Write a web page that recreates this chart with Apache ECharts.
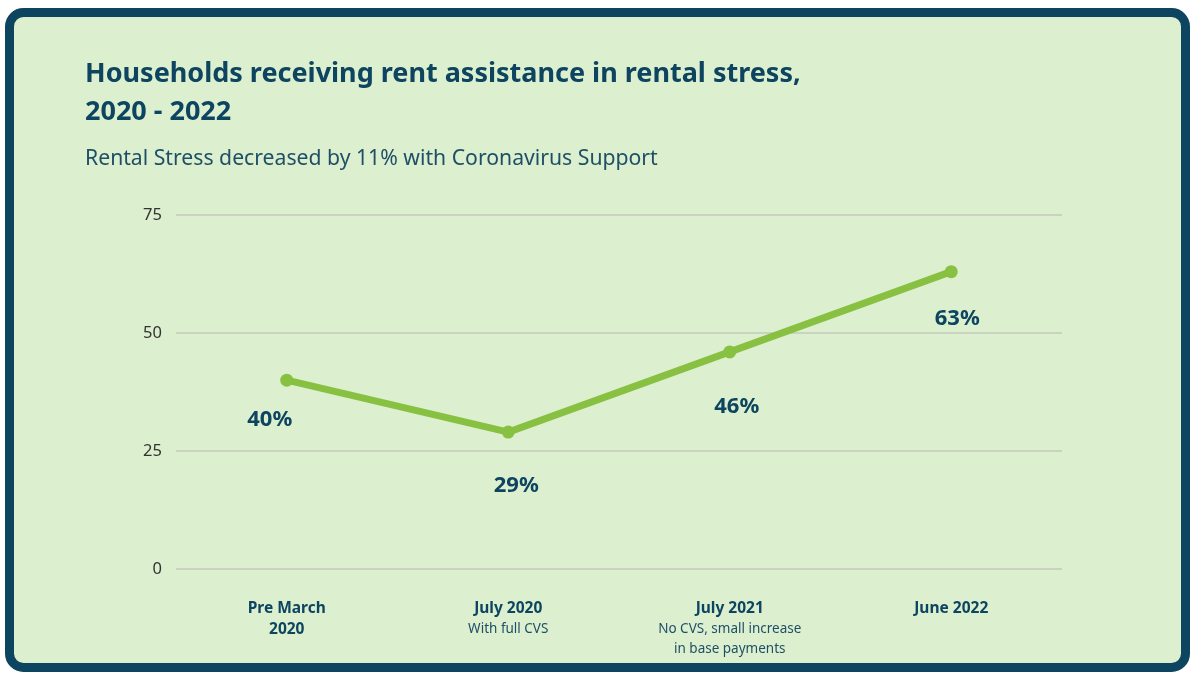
<!DOCTYPE html>
<html><head><meta charset="utf-8">
<script src="https://cdn.jsdelivr.net/npm/echarts@6/dist/echarts.min.js"></script>
<style>html,body{margin:0;padding:0;background:#fff}#c{width:1191px;height:673px}</style>
</head><body><div id="c"></div>
<script>
const categories = ["Pre March\n2020", "July 2020", "July 2021", "June 2022"];
const categoryNotes = ["", "With full CVS", "No CVS, small increase\nin base payments", ""];
const stressValues = [40, 29, 46, 63];
const yTicks = [0, 25, 50, 75];
const titleText = "Households receiving rent assistance in rental stress,\n2020 - 2022";
const subtitleText = "Rental Stress decreased by 11% with Coronavirus Support";

const font = "Noto Sans";
const dark = "#0d4460";
const labelOffsets = [[-17, 40], [8, 54], [7, 55], [6, 47]];

const chart = echarts.init(document.getElementById('c'));
chart.setOption({
  backgroundColor: '#ffffff',
  textStyle: { fontFamily: font },
  graphic: [{
    type: 'rect', z: -10,
    shape: { x: 9.5, y: 12.5, width: 1176, height: 655, r: 14 },
    style: { fill: '#dcefcf', stroke: dark, lineWidth: 9 }
  }],
  title: [{
    text: titleText, left: 80, top: 50,
    textStyle: { fontFamily: font, fontSize: 27, fontWeight: 'bold', color: dark, lineHeight: 38 }
  }, {
    text: subtitleText, left: 80, top: 143,
    textStyle: { fontFamily: font, fontSize: 21.2, fontWeight: 'normal', color: '#1f4f66' }
  }],
  grid: { left: 176, right: 129, top: 215, bottom: 104 },
  xAxis: {
    type: 'category', data: categories, boundaryGap: true,
    axisLine: { show: false }, axisTick: { show: false },
    axisLabel: {
      margin: 29, color: dark,
      formatter: function (v, i) {
        const lines = v.split('\n').map(s => '{b|' + s + '}');
        const notes = categoryNotes[i] ? categoryNotes[i].split('\n').map(s => '{s|' + s + '}') : [];
        return lines.concat(notes).join('\n');
      },
      rich: {
        b: { fontFamily: font, fontSize: 15.5, fontWeight: 'bold', color: dark, lineHeight: 21 },
        s: { fontFamily: font, fontSize: 13.5, color: '#1f4f66', lineHeight: 20 }
      }
    }
  },
  yAxis: {
    type: 'value', min: 0, max: 75, interval: 25,
    axisLine: { show: false }, axisTick: { show: false },
    axisLabel: { margin: 14, color: '#333', fontSize: 16.5, fontFamily: font },
    splitLine: { lineStyle: { color: '#c3cabb', width: 1.5 } }
  },
  series: [{
    type: 'line', data: stressValues.map((v, i) => ({
      value: v,
      label: { offset: labelOffsets[i] }
    })),
    lineStyle: { color: '#88c042', width: 7 },
    itemStyle: { color: '#88c042' },
    symbol: 'circle', symbolSize: 13,
    label: {
      show: true, position: 'inside', formatter: '{c}%',
      fontFamily: font, fontSize: 22, fontWeight: 'bold', color: dark
    }
  }]
});
</script></body></html>
